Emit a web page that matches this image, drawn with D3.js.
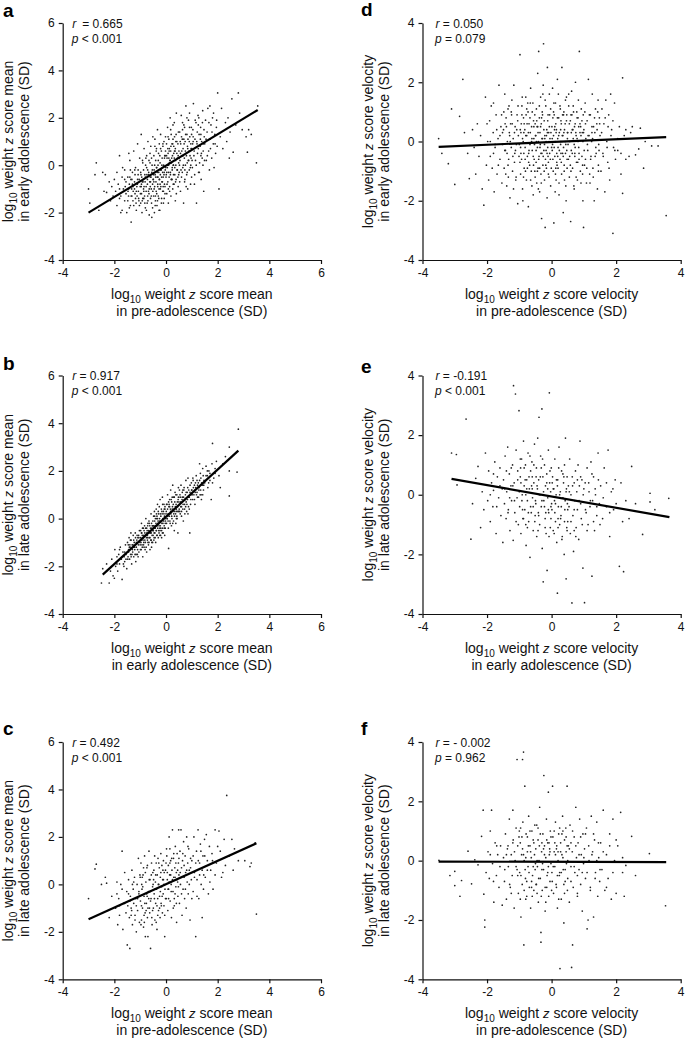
<!DOCTYPE html>
<html>
<head>
<meta charset="utf-8">
<script src="https://cdn.jsdelivr.net/npm/d3@7"></script>
<style>
  body { margin: 0; background: #fff; }
  svg { display: block; font-family: "Liberation Sans", Arial, Helvetica, sans-serif; }
</style>
</head>
<body>
<div id="chart"></div>
<script>
// ---- data: points, flat [x, y, x, y, ...] ----
const aPts = [
  -3.0,-1.0, -2.95,-1.6, -2.7,0.1, -2.75,-0.4, -2.6,-1.9, -2.45,-0.3, -2.4,-1.1, -2.35,-0.4, -2.3,-1.15, -2.2,-0.7, -2.15,-1.5, -2.1,-0.9, -2.05,-1.3, -2.0,-0.6,
  -1.95,-1.1, -1.9,-1.7, -1.85,-0.8, -1.8,0.4, -1.75,-1.3, -1.7,-0.5, -1.7,-1.9, -1.65,-1.0, -1.6,-0.2, -1.6,-1.5, -1.55,-0.7, -1.55,-1.2, -1.52,-2.0, -1.9,-0.3, -1.8,-1.4, -1.68,-0.1, -1.58,-0.9, -1.75,-2.0,
  -1.48,-0.5, -1.45,-1.3, -1.42,-0.8, -1.4,0.2, -1.38,-1.7, -1.35,-2.4, -1.33,-1.0, -1.3,-0.3, -1.28,-1.5, -1.25,0.6, -1.22,-0.7, -1.2,-1.2, -1.18,-0.1, -1.15,-1.9, -1.13,-0.9, -1.1,0.9, -1.08,-0.4, -1.06,-1.4, -1.04,-0.6, -1.02,0.3, -1.47,-1.1, -1.36,-0.6, -1.27,-1.1, -1.21,-0.2, -1.16,-1.6, -1.11,-0.8, -1.07,-1.1, -1.03,-1.7, -1.44,0.5, -1.32,-1.3,
  -0.99,-1.2, -0.98,-0.3, -0.96,1.3, -0.95,-0.8, -0.93,-2.0, -0.92,-1.5, -0.9,0.1, -0.88,-0.6, -0.87,-1.0, -0.85,0.7, -0.83,-1.3, -0.82,-0.4, -0.8,-1.8, -0.78,0.3, -0.77,-0.9, -0.75,-0.1, -0.73,-1.6, -0.72,-0.6, -0.7,1.0, -0.68,-1.1, -0.67,-0.3, -0.65,-2.1, -0.63,-0.7, -0.62,0.5, -0.6,-1.4, -0.58,-0.5, -0.57,-1.0, -0.55,-2.2, -0.54,0.0, -0.52,-0.8, -0.51,1.2, -0.94,-0.5, -0.86,-1.1, -0.79,0.0, -0.71,-1.3, -0.66,0.2, -0.61,-0.9, -0.56,-1.6, -0.53,-0.2, -0.89,-0.7, -0.74,-0.4, -0.59,0.8,
  -0.49,-0.6, -0.48,-1.3, -0.47,0.4, -0.46,-0.2, -0.45,-2.0, -0.44,-0.9, -0.43,1.1, -0.42,-0.4, -0.41,-1.5, -0.4,0.2, -0.39,-0.7, -0.38,-1.1, -0.37,0.7, -0.36,-0.1, -0.35,-1.7, -0.34,-0.5, -0.33,1.5, -0.32,-0.8, -0.31,0.0, -0.3,-1.3, -0.29,0.5, -0.28,-0.3, -0.27,-1.0, -0.26,0.9, -0.25,-0.6, -0.24,-1.9, -0.23,0.1, -0.22,-0.4, -0.21,1.3, -0.2,-0.9, -0.19,-0.2, -0.18,0.6, -0.17,-1.4, -0.16,-0.7, -0.15,0.3, -0.14,-0.1, -0.13,-1.1, -0.12,0.8, -0.11,-0.5, -0.1,-1.6, -0.09,0.0, -0.08,1.0, -0.07,-0.3, -0.06,-0.8, -0.05,0.4, -0.04,-1.2, -0.03,-0.2, -0.02,0.6,
  0.01,-0.4, 0.02,0.9, 0.03,-1.2, 0.04,0.3, 0.05,-0.1, 0.06,1.6, 0.07,-0.7, 0.08,0.5, 0.09,-1.6, 0.1,0.0, 0.11,1.1, 0.12,-0.5, 0.13,0.7, 0.14,-0.9, 0.15,0.2, 0.16,2.0, 0.17,-0.3, 0.18,0.6, 0.19,-1.3, 0.2,1.3, 0.21,0.1, 0.22,-0.6, 0.23,0.9, 0.24,-0.2, 0.25,0.4, 0.26,-1.0, 0.27,1.7, 0.28,0.0, 0.29,-0.4, 0.3,0.8, 0.31,-0.8, 0.32,0.3, 0.33,1.2, 0.34,-0.1, 0.35,0.6, 0.36,-1.5, 0.37,0.2, 0.38,1.0, 0.39,-0.6, 0.4,2.2, 0.42,0.5, 0.44,-0.2, 0.46,0.9, 0.47,-0.9, 0.49,0.1,
  0.5,0.6, 0.51,-0.3, 0.53,1.4, 0.54,0.2, 0.56,-1.1, 0.57,0.9, 0.59,2.1, 0.6,-0.5, 0.62,0.4, 0.63,1.1, 0.65,-0.1, 0.66,0.7, 0.68,-1.6, 0.69,1.7, 0.71,0.3, 0.72,-0.7, 0.74,1.0, 0.75,0.0, 0.77,2.5, 0.78,0.5, 0.8,-0.4, 0.81,1.3, 0.83,0.8, 0.84,-1.0, 0.86,0.2, 0.87,1.9, 0.89,0.6, 0.9,-0.2, 0.92,1.2, 0.93,0.4, 0.95,-0.8, 0.96,0.9, 0.98,1.6, 0.99,-0.5, 0.52,0.0, 0.64,1.5, 0.73,-0.2, 0.82,0.1, 0.91,2.2, 0.97,0.3,
  1.0,0.7, 1.02,-0.1, 1.04,1.5, 1.06,2.6, 1.08,0.4, 1.1,-0.8, 1.12,1.1, 1.14,0.2, 1.16,1.8, 1.18,-1.6, 1.2,0.9, 1.22,0.5, 1.24,2.1, 1.26,-0.3, 1.28,1.3, 1.3,0.1, 1.32,0.8, 1.34,1.6, 1.36,-0.6, 1.38,1.0, 1.4,0.3, 1.42,2.3, 1.44,0.6, 1.46,-1.1, 1.48,1.2, 1.05,1.0, 1.25,1.7, 1.35,0.4,
  1.5,0.9, 1.53,1.9, 1.56,0.2, 1.59,1.4, 1.62,2.4, 1.65,0.6, 1.68,-0.2, 1.71,1.1, 1.74,1.7, 1.77,0.3, 1.8,2.0, 1.83,0.9, 1.86,-0.1, 1.89,1.3, 1.92,0.5, 1.95,1.6, 1.98,0.8, 1.7,2.5,
  2.0,3.05, 2.05,-1.0, 2.1,1.2, 2.15,2.4, 2.2,0.7, 2.3,1.8, 2.35,1.0, 2.4,2.0, 2.45,0.3, 2.48,1.4,
  2.55,2.8, 2.6,0.55, 2.7,1.7, 2.8,3.05, 2.85,2.2, 2.95,1.5,
  3.1,1.2, 3.15,0.55, 3.2,1.5, 3.3,1.3, 3.5,0.1, 3.55,2.5,
  -1.45,-1.0, -1.4,-0.5, -1.35,-1.3, -1.3,-0.8, -1.25,-1.7, -1.2,-0.4, -1.15,-1.1, -1.1,-0.6, -1.05,-1.5, -1.0,-0.9,
  -1.48,-1.5, -1.38,-0.2, -1.28,-0.9, -1.18,-1.4, -1.08,-0.2, -0.98,-1.6, -1.42,-1.8, -1.32,-0.6, -1.22,-1.0, -1.12,-1.3,
  -0.97,-0.4, -0.95,-1.2, -0.92,-0.7, -0.9,-1.4, -0.87,-0.2, -0.85,-0.9, -0.82,-1.6, -0.8,-0.5, -0.77,-1.1, -0.75,0.4,
  -0.72,-0.8, -0.7,-1.5, -0.67,-0.4, -0.65,-1.0, -0.62,0.1, -0.6,-0.7, -0.57,-1.3, -0.55,-0.3, -0.52,-1.8, -0.5,-0.6,
  -0.96,-0.9, -0.91,0.2, -0.86,-1.4, -0.81,-0.7, -0.76,-1.9, -0.71,-0.2, -0.66,-1.2, -0.61,-0.5, -0.56,0.3, -0.51,-1.1,
  -0.48,-0.4, -0.46,-1.0, -0.44,0.0, -0.42,-1.7, -0.4,-0.5, -0.38,0.6, -0.36,-1.2, -0.34,-0.3, -0.32,-0.9, -0.3,0.2,
  -0.28,-1.4, -0.26,-0.6, -0.24,0.4, -0.22,-1.0, -0.2,-0.2, -0.18,-1.6, -0.16,0.0, -0.14,-0.7, -0.12,0.9, -0.1,-1.1,
  -0.08,-0.4, -0.06,0.3, -0.04,-0.9, -0.02,1.2, 0.0,-0.5, -0.47,-0.7, -0.37,-0.1, -0.27,-1.9, -0.17,-0.5, -0.07,-1.4,
  -0.43,0.8, -0.33,-1.5, -0.23,-0.8, -0.13,-0.3, -0.03,0.4, -0.41,-1.3, -0.31,-0.5, -0.21,0.7, -0.11,-0.9, -0.01,-0.1,
  0.02,0.4, 0.04,-0.8, 0.06,0.0, 0.08,1.2, 0.1,-0.3, 0.12,0.6, 0.14,-1.1, 0.16,0.2, 0.18,1.5, 0.2,-0.6,
  0.22,0.3, 0.24,-0.1, 0.26,0.9, 0.28,-0.8, 0.3,0.5, 0.32,1.8, 0.34,-0.4, 0.36,0.7, 0.38,0.0, 0.4,-1.2,
  0.42,1.0, 0.44,0.3, 0.46,-0.5, 0.48,1.4, 0.03,-0.3, 0.13,0.1, 0.23,-0.6, 0.33,0.6, 0.43,-0.2, 0.07,0.7,
  0.17,-0.4, 0.27,1.1, 0.37,-0.7, 0.47,0.4, 0.09,-1.0, 0.19,0.8, 0.29,0.0, 0.39,1.3, 0.49,-0.4, 0.11,0.3,
  0.51,0.3, 0.55,1.0, 0.58,-0.2, 0.61,0.6, 0.64,1.8, 0.67,0.0, 0.7,0.9, 0.73,-0.6, 0.76,1.3, 0.79,0.4,
  0.82,-0.3, 0.85,1.1, 0.88,0.2, 0.91,1.6, 0.94,-0.1, 0.97,0.7, 0.53,-0.7, 0.6,1.2, 0.66,0.4, 0.72,1.6,
  0.78,-0.9, 0.84,0.7, 0.9,1.0, 0.96,0.0, 0.99,1.3, 0.56,0.5, 0.63,-0.3, 0.69,1.1, 0.75,0.6, 0.81,2.0,
  1.01,0.2, 1.05,1.2, 1.09,0.6, 1.13,1.9, 1.17,0.0, 1.21,1.4, 1.25,0.7, 1.29,-0.3, 1.33,1.1, 1.37,0.5,
  1.41,1.8, 1.45,0.9, 1.49,0.2, 1.03,0.9, 1.11,-0.4, 1.19,1.0, 1.27,2.0, 1.35,1.3, 1.43,0.0, 1.47,1.5,
  1.55,1.1, 1.6,0.4, 1.66,1.8, 1.72,0.7, 1.78,1.4, 1.84,2.2, 1.9,0.9, 1.96,1.9, -1.6,-0.6, -1.8,-1.0
];
const bPts = [
  -2.5,-2.7, -2.45,-2.1, -2.2,-2.7, -2.3,-1.9, -2.15,-2.2, -2.1,-1.7, -2.05,-2.4, -2.0,-2.5,
  -1.98,-1.3, -1.95,-2.0, -1.9,-1.6, -1.87,-2.2, -1.83,-1.5, -1.8,-1.9, -1.77,-1.2, -1.73,-1.7, -1.7,-2.55, -1.67,-1.4, -1.63,-2.0, -1.6,-1.8, -1.57,-1.1, -1.55,-1.5, -1.52,-2.1, -1.62,-1.6,
  -1.49,-1.0, -1.47,-1.6, -1.45,-1.3, -1.43,-0.8, -1.41,-1.7, -1.39,-1.2, -1.37,-1.5, -1.35,-0.9, -1.33,-1.9, -1.31,-1.1, -1.29,-1.4, -1.27,-0.7, -1.25,-1.6, -1.23,-1.0, -1.21,-1.3, -1.19,-0.6, -1.17,-1.8, -1.15,-1.2, -1.13,-0.9, -1.11,-1.5, -1.09,-0.8, -1.07,-1.1, -1.05,-1.4, -1.03,-0.5, -1.01,-1.0, -1.46,-1.1, -1.36,-0.6, -1.26,-1.2, -1.16,-1.5, -1.06,-0.7,
  -0.99,-1.3, -0.98,-0.5, -0.96,-0.9, -0.95,-0.2, -0.93,-1.1, -0.92,-0.7, -0.9,-1.6, -0.88,-0.4, -0.87,-0.8, -0.85,-1.2, -0.83,-0.3, -0.82,-0.6, -0.8,-1.0, -0.78,0.0, -0.77,-0.7, -0.75,-1.4, -0.73,-0.5, -0.72,-0.9, -0.7,-0.2, -0.68,-1.1, -0.67,-0.6, -0.65,-0.8, -0.63,-0.3, -0.62,-1.3, -0.6,-0.5, -0.58,0.2, -0.57,-0.9, -0.55,-0.4, -0.54,-0.7, -0.52,-1.0, -0.51,-0.1, -0.94,-0.6, -0.86,-1.0, -0.79,-0.4, -0.71,-0.8, -0.66,-0.1, -0.61,-0.6, -0.56,-1.2, -0.53,-0.3, -0.89,-0.9, -0.74,-0.6, -0.59,-0.9,
  -0.49,-0.5, -0.48,0.1, -0.47,-0.3, -0.46,-0.8, -0.45,0.3, -0.44,-0.1, -0.43,-0.6, -0.42,-0.4, -0.41,0.0, -0.4,-1.0, -0.39,-0.2, -0.38,0.4, -0.37,-0.5, -0.36,-0.7, -0.35,0.1, -0.34,-0.3, -0.33,0.6, -0.32,-0.4, -0.31,-0.1, -0.3,-0.8, -0.29,0.2, -0.28,-0.2, -0.27,-0.6, -0.26,0.5, -0.25,0.0, -0.24,-0.4, -0.23,0.8, -0.22,-0.3, -0.21,-0.7, -0.2,0.1, -0.19,-0.1, -0.18,0.4, -0.17,-0.5, -0.16,-0.2, -0.15,0.2, -0.14,0.9, -0.13,-0.4, -0.12,0.0, -0.11,-0.6, -0.1,0.3, -0.09,-0.1, -0.08,0.6, -0.07,-0.3, -0.06,0.1, -0.05,-0.7, -0.04,0.4, -0.03,-0.2, -0.02,0.0,
  0.01,0.3, 0.02,-0.2, 0.04,0.6, 0.05,0.0, 0.06,1.0, 0.08,0.2, 0.09,-0.4, 0.1,-1.25, 0.11,0.5, 0.13,0.1, 0.14,0.8, 0.15,-0.1, 0.17,0.4, 0.18,1.2, 0.19,0.2, 0.21,-0.3, 0.22,0.7, 0.23,0.0, 0.25,0.5, 0.26,1.4, 0.27,0.3, 0.29,-0.1, 0.3,0.9, 0.31,0.4, 0.33,0.1, 0.34,0.7, 0.35,1.1, 0.37,0.2, 0.38,-0.2, 0.39,0.6, 0.41,0.3, 0.42,1.0, 0.43,0.0, 0.45,0.5, 0.46,-0.6, 0.47,0.8, 0.49,0.3, 0.12,0.6, 0.24,0.9, 0.32,-0.5, 0.4,0.0, 0.48,1.3,
  0.5,0.7, 0.52,1.2, 0.53,0.3, 0.55,0.9, 0.57,0.5, 0.58,1.4, 0.6,0.1, 0.62,0.8, 0.63,1.1, 0.65,0.4, 0.67,-0.1, 0.68,0.9, 0.7,1.3, 0.72,0.6, 0.73,0.2, 0.75,1.0, 0.77,1.6, 0.78,0.7, 0.8,0.3, 0.82,1.1, 0.83,0.8, 0.85,1.7, 0.87,0.5, 0.88,1.2, 0.9,0.9, 0.92,-0.6, 0.93,1.4, 0.95,0.6, 0.97,1.0, 0.98,1.5, 0.6,0.5, 0.85,0.2,
  1.0,1.2, 1.03,0.8, 1.05,1.6, 1.08,1.0, 1.1,1.4, 1.12,0.6, 1.15,1.3, 1.17,1.8, 1.2,1.1, 1.22,0.9, 1.25,1.5, 1.27,1.2, 1.3,2.3, 1.32,1.0, 1.35,1.7, 1.37,0.8, 1.4,1.4, 1.42,2.1, 1.45,1.2, 1.47,1.6, 1.13,1.1, 1.33,1.9,
  1.5,1.5, 1.55,2.2, 1.6,1.8, 1.62,1.3, 1.66,2.0, 1.7,1.6, 1.75,0.8, 1.78,2.3, 1.8,3.15, 1.85,1.7, 1.9,2.1, 1.95,2.4,
  2.05,1.8, 2.1,1.3, 2.2,2.3, 2.3,2.6, 2.45,3.0, 2.45,2.0, 2.45,0.95, 2.75,1.95, 2.8,3.75,
  -1.45,-1.4, -1.4,-1.1, -1.35,-1.6, -1.3,-1.3, -1.25,-0.9, -1.2,-1.5, -1.15,-1.0, -1.1,-1.3, -1.05,-0.8, -1.0,-1.1,
  -1.48,-1.7, -1.38,-0.9, -1.28,-1.1, -1.18,-0.8, -1.08,-1.6, -0.98,-0.8, -1.42,-1.2, -1.32,-1.5, -1.22,-1.2, -1.12,-0.7,
  -0.97,-1.0, -0.95,-0.6, -0.92,-1.2, -0.9,-0.8, -0.87,-1.1, -0.85,-0.5, -0.82,-0.9, -0.8,-0.7, -0.77,-1.2, -0.75,-0.4,
  -0.72,-0.7, -0.7,-1.0, -0.67,-0.5, -0.65,-0.2, -0.62,-0.8, -0.6,-0.4, -0.57,-0.6, -0.55,-1.0, -0.52,-0.3, -0.5,-0.7,
  -0.96,-1.3, -0.91,-0.4, -0.86,-0.7, -0.81,-1.3, -0.76,-0.8, -0.71,-0.3, -0.66,-1.0, -0.61,-0.6, -0.56,-0.2, -0.51,-0.5,
  -0.48,-0.3, -0.46,-0.6, -0.44,0.1, -0.42,-0.8, -0.4,-0.3, -0.38,-0.5, -0.36,0.0, -0.34,-0.7, -0.32,-0.2, -0.3,0.3,
  -0.28,-0.5, -0.26,-0.1, -0.24,-0.7, -0.22,0.2, -0.2,-0.4, -0.18,-0.1, -0.16,0.3, -0.14,-0.6, -0.12,-0.2, -0.1,0.0,
  -0.08,0.2, -0.06,-0.4, -0.04,0.5, -0.02,-0.1, 0.0,0.2, -0.47,-0.9, -0.37,0.2, -0.27,-0.3, -0.17,-0.8, -0.07,0.4,
  -0.43,-0.4, -0.33,0.0, -0.23,-0.5, -0.13,0.6, -0.03,-0.4, 0.02,0.6, 0.04,0.0, 0.06,0.4, 0.08,-0.1, 0.1,0.7,
  0.12,0.2, 0.14,0.5, 0.16,-0.2, 0.18,0.3, 0.2,0.8, 0.22,0.1, 0.24,0.4, 0.26,-0.2, 0.28,0.6, 0.3,0.2,
  0.32,0.9, 0.34,0.3, 0.36,0.5, 0.38,1.0, 0.4,0.4, 0.42,0.1, 0.44,0.7, 0.46,0.3, 0.48,0.9, 0.07,0.1,
  0.51,0.4, 0.54,1.0, 0.57,0.7, 0.6,0.3, 0.63,0.9, 0.66,0.6, 0.69,1.2, 0.72,0.4, 0.75,0.8, 0.78,1.1,
  0.81,0.6, 0.84,1.3, 0.87,0.9, 0.9,0.4, 0.93,1.1, 0.96,0.8, 0.99,1.2, 0.55,0.2, 0.65,1.2, 0.76,0.5,
  1.02,1.0, 1.06,1.3, 1.1,0.8, 1.14,1.5, 1.18,1.0, 1.22,1.4, 1.26,0.9, 1.3,1.6, 1.34,1.2, 1.38,1.5,
  1.42,1.0, 1.46,1.4, 1.04,1.7, 1.12,1.2, 1.2,1.6, 1.28,1.3, 1.36,1.0, 1.44,1.8, 1.55,1.8, 1.65,1.5,
  1.6,2.0, 1.7,1.9, 1.8,1.5, 1.9,1.9, -1.6,-1.4, -1.7,-1.6, -1.8,-1.3, -1.9,-1.9, -1.55,-1.7, -1.65,-1.9
];
const cPts = [
  -3.0,-0.6, -2.75,0.65, -2.7,0.85, -2.5,0.0, -2.35,0.3, -2.3,0.05, -2.2,-1.4, -2.1,-0.5,
  -1.95,-1.0, -1.9,-0.4, -1.87,-1.7, -1.83,-0.6, -1.8,-1.3, -1.75,0.0, -1.7,1.4, -1.67,-1.9, -1.63,-0.8, -1.6,0.5, -1.55,-1.2, -1.52,-0.3,
  -1.5,-2.55, -1.48,-0.9, -1.45,0.2, -1.42,-1.4, -1.4,-2.7, -1.38,-0.5, -1.35,-1.0, -1.32,0.6, -1.3,-1.7, -1.27,-0.2, -1.25,-0.8, -1.22,0.3, -1.2,-1.3, -1.17,-0.6, -1.15,-2.0, -1.12,0.0, -1.1,-1.1, -1.07,1.1, -1.05,-0.4, -1.03,-1.6, -1.01,0.4, -1.33,-1.1,
  -0.99,-0.7, -0.97,0.9, -0.95,-1.5, -0.93,-0.2, -0.91,-1.0, -0.89,0.4, -0.87,-1.8, -0.85,-0.5, -0.83,1.2, -0.81,-1.2, -0.8,-2.2, -0.78,0.1, -0.76,-0.8, -0.74,0.7, -0.72,-1.4, -0.7,-2.2, -0.68,-0.3, -0.66,1.4, -0.64,-1.0, -0.62,0.2, -0.6,-2.7, -0.58,-0.6, -0.56,0.9, -0.54,-1.7, -0.52,-0.1, -0.51,0.5, -0.94,0.0, -0.84,-1.6, -0.73,-0.5, -0.63,-1.2,
  -0.49,-1.0, -0.47,0.6, -0.46,-0.4, -0.44,1.2, -0.43,-1.5, -0.41,0.1, -0.4,-0.8, -0.38,0.9, -0.37,-0.2, -0.35,-1.9, -0.34,0.4, -0.32,-0.6, -0.31,1.1, -0.29,-1.1, -0.28,0.0, -0.26,0.7, -0.25,-0.5, -0.23,-1.4, -0.22,0.3, -0.2,1.3, -0.19,-0.8, -0.17,-0.1, -0.16,0.8, -0.14,-1.2, -0.13,0.2, -0.11,-0.4, -0.1,1.0, -0.08,-0.9, -0.07,0.5, -0.05,-2.2, -0.04,-0.2, -0.02,0.6,
  0.01,-0.6, 0.03,1.2, 0.05,0.2, 0.07,-1.1, 0.09,0.8, 0.1,-0.2, 0.12,2.0, 0.14,0.4, 0.16,-0.7, 0.18,1.0, 0.2,0.0, 0.21,-1.4, 0.23,0.6, 0.25,2.3, 0.27,-0.3, 0.29,1.1, 0.3,0.3, 0.32,-0.9, 0.34,0.7, 0.36,1.6, 0.38,-0.1, 0.4,0.5, 0.41,-1.6, 0.43,1.3, 0.45,0.1, 0.46,-0.5, 0.48,0.9, 0.49,2.3, 0.15,1.5, 0.35,-0.4,
  0.5,0.4, 0.52,-0.8, 0.54,1.4, 0.56,0.0, 0.58,2.3, 0.6,0.7, 0.62,-1.3, 0.64,1.0, 0.66,-0.2, 0.68,1.8, 0.7,0.3, 0.72,-0.6, 0.74,1.2, 0.76,0.5, 0.78,-1.0, 0.8,2.0, 0.82,0.1, 0.84,0.9, 0.86,-0.4, 0.88,1.5, 0.9,0.6, 0.93,-1.5, 0.95,1.1, 0.98,0.2,
  1.0,1.0, 1.05,-0.3, 1.08,2.0, 1.1,0.5, 1.15,-2.2, 1.18,1.4, 1.2,0.2, 1.24,2.3, 1.27,-0.6, 1.3,0.9, 1.33,1.7, 1.36,0.0, 1.4,-1.4, 1.43,1.2, 1.46,0.4, 1.49,1.9,
  1.52,0.3, 1.56,2.1, 1.6,1.0, 1.64,-0.4, 1.68,1.6, 1.73,0.6, 1.78,1.3, 1.82,-0.2, 1.9,2.3, 1.95,0.9,
  2.05,2.25, 2.1,1.4, 2.15,0.3, 2.25,1.9, 2.3,0.8, 2.35,3.75, 2.45,1.2,
  2.55,1.9, 2.6,0.6, 2.65,1.5, 2.8,1.0, 3.05,1.0, 3.25,0.75, 3.3,0.9, 3.45,1.75, 3.5,-1.25,
  -1.45,-0.4, -1.35,-1.3, -1.25,0.1, -1.15,-0.9, -1.05,-0.3, -1.4,-0.7, -1.3,0.0, -1.2,-1.5, -1.1,-0.6, -1.0,0.3,
  -0.95,-0.9, -0.9,-0.1, -0.85,-1.3, -0.8,0.5, -0.75,-0.4, -0.7,-1.0, -0.65,0.2, -0.6,-0.7, -0.55,-1.4, -0.5,0.0,
  -0.92,0.3, -0.82,-0.8, -0.72,0.8, -0.62,-0.3, -0.52,-1.1, -0.97,-1.7, -0.87,0.7, -0.77,-1.1, -0.67,-0.6, -0.57,0.4,
  -0.45,-0.6, -0.4,0.4, -0.35,-0.9, -0.3,0.0, -0.25,-1.0, -0.2,0.5, -0.15,-0.5, -0.1,0.2, -0.05,-1.3, 0.0,0.9,
  -0.42,-0.2, -0.32,-1.3, -0.22,-0.3, -0.12,0.6, -0.02,-0.6, -0.48,0.2, -0.38,-1.6, -0.28,0.9, -0.18,-0.9, -0.08,0.0,
  0.05,0.5, 0.1,-0.6, 0.15,0.9, 0.2,-0.3, 0.25,0.2, 0.3,1.3, 0.35,0.3, 0.4,-0.8, 0.45,0.6, 0.5,1.1,
  0.08,-0.2, 0.18,0.4, 0.28,-1.0, 0.38,0.9, 0.48,-0.1, 0.02,1.5, 0.12,0.1, 0.22,1.1, 0.32,-0.6, 0.42,0.2,
  0.55,0.5, 0.6,-0.4, 0.65,1.3, 0.7,0.8, 0.75,-0.2, 0.8,0.6, 0.85,1.6, 0.9,0.0, 0.95,0.7, 1.0,-0.6,
  1.05,1.2, 1.1,0.3, 1.15,0.9, 1.2,-0.5, 1.25,1.0, 1.3,0.4, 1.35,1.4, 1.4,0.6, 1.45,-0.2, 1.5,1.2,
  -1.6,-0.8, -1.7,-0.2, -1.8,-0.9, -1.9,0.1, 1.6,0.6, 1.7,0.1, 1.8,1.0, 1.9,0.4, 2.0,1.6, 2.2,0.5
];
const dPts = [
  -3.5,0.1, -3.4,-0.4, -3.2,-0.75, -3.1,1.1, -3.0,-1.45, -2.85,0.85, -2.75,2.1, -2.6,-0.4, -2.55,-1.25, -2.7,0.3,
  -2.45,0.4, -2.4,-0.2, -2.35,-1.1, -2.3,0.6, -2.25,-0.5, -2.2,0.2, -2.15,-1.6, -2.1,-2.15, -2.05,1.5, -2.02,-0.8,
  -1.98,0.0, -1.95,-1.3, -1.92,0.7, -1.9,-0.5, -1.87,1.2, -1.84,-0.9, -1.81,0.3, -1.78,-1.7, -1.75,-0.2, -1.72,0.9, -1.69,-1.1, -1.66,0.1, -1.63,1.9, -1.6,-0.6, -1.57,0.5, -1.54,-1.4, -1.52,-0.1, -1.8,1.3,
  -1.49,0.4, -1.47,-0.9, -1.45,1.6, -1.43,-0.3, -1.41,0.8, -1.39,-1.5, -1.37,0.0, -1.35,1.1, -1.33,-0.6, -1.31,0.3, -1.29,-1.9, -1.27,0.6, -1.25,-0.2, -1.23,1.4, -1.21,-1.0, -1.19,0.1, -1.17,1.9, -1.15,-0.7, -1.13,0.5, -1.11,-1.3, -1.09,-0.1, -1.07,0.9, -1.05,-2.1, -1.03,0.2, -1.01,-0.5, -1.44,0.6, -1.34,-1.2, -1.24,0.9, -1.14,-0.4, -1.04,1.2,
  -0.98,2.93, -0.96,-1.1, -0.95,0.3, -0.93,-0.6, -0.92,1.2, -0.9,-1.6, -0.88,0.0, -0.87,0.8, -0.85,-0.9, -0.83,0.4, -0.82,-0.2, -0.8,1.5, -0.78,-1.3, -0.77,0.2, -0.75,-0.5, -0.73,1.0, -0.72,-2.2, -0.7,0.6, -0.68,-0.8, -0.67,-0.1, -0.65,1.8, -0.63,-1.0, -0.62,0.5, -0.6,-0.3, -0.58,1.3, -0.57,-1.8, -0.55,0.1, -0.54,-0.6, -0.52,0.9, -0.51,-1.2, -0.94,0.6, -0.86,-0.4, -0.79,0.9, -0.71,-0.7, -0.66,0.3, -0.61,-1.5, -0.56,0.7, -0.53,-0.1, -0.89,-2.0, -0.74,1.3,
  -0.49,0.2, -0.48,-0.7, -0.47,1.1, -0.46,-1.4, -0.45,0.5, -0.44,-0.2, -0.43,2.3, -0.42,-0.9, -0.41,0.0, -0.4,3.04, -0.39,-0.5, -0.38,0.8, -0.37,-1.7, -0.36,0.3, -0.35,-0.1, -0.34,1.5, -0.33,-1.1, -0.32,0.6, -0.31,-2.6, -0.3,-0.4, -0.29,1.0, -0.28,0.1, -0.27,-0.8, -0.26,1.9, -0.25,3.3, -0.24,-0.3, -0.23,0.7, -0.22,-1.3, -0.21,0.2, -0.2,-2.9, -0.19,-0.6, -0.18,1.2, -0.17,0.0, -0.16,-0.9, -0.15,0.4, -0.14,-1.9, -0.13,2.5, -0.12,-0.2, -0.11,0.9, -0.1,-0.7, -0.09,0.3, -0.08,-1.2, -0.07,1.6, -0.06,-0.4, -0.05,0.1, -0.03,-1.5,
  0.01,0.5, 0.02,-0.3, 0.03,1.8, 0.05,-1.0, 0.06,0.2, 0.07,-2.75, 0.08,0.9, 0.1,-0.5, 0.11,0.0, 0.12,1.3, 0.14,-1.3, 0.15,0.4, 0.16,-0.7, 0.18,2.1, 0.19,0.1, 0.2,-0.2, 0.22,0.8, 0.23,-1.8, 0.24,0.3, 0.26,-0.6, 0.27,1.1, 0.28,-0.1, 0.3,0.6, 0.31,-1.1, 0.32,2.5, 0.34,-0.4, 0.35,0.2, 0.36,-2.4, 0.38,1.0, 0.39,-0.8, 0.4,0.4, 0.42,0.0, 0.43,1.4, 0.44,-1.5, 0.46,0.7, 0.47,-0.3, 0.48,-0.9, 0.49,0.1, 0.04,0.8, 0.13,-0.9, 0.21,1.6, 0.29,-0.4, 0.37,0.9, 0.45,-2.0,
  0.5,0.3, 0.52,-0.6, 0.53,1.2, 0.55,-1.2, 0.56,0.0, 0.58,0.7, 0.59,-2.7, 0.61,-0.3, 0.62,1.7, 0.64,0.4, 0.65,-0.9, 0.67,0.1, 0.68,1.0, 0.7,-1.6, 0.71,0.5, 0.73,-0.2, 0.74,2.0, 0.76,0.2, 0.77,-0.7, 0.79,0.8, 0.8,-1.3, 0.82,0.0, 0.83,1.4, 0.85,-0.4, 0.86,3.04, 0.88,0.6, 0.89,-1.0, 0.91,0.2, 0.92,1.1, 0.94,-0.5, 0.95,0.3, 0.97,-2.0, 0.98,0.9, 0.99,-2.9, 0.6,0.9, 0.72,-0.5, 0.84,0.5, 0.96,-1.1,
  1.0,0.4, 1.02,-0.8, 1.04,1.3, 1.06,0.1, 1.08,-1.4, 1.1,0.7, 1.12,-0.3, 1.14,2.1, 1.16,0.2, 1.18,-1.1, 1.2,0.9, 1.22,-0.5, 1.24,0.0, 1.26,1.6, 1.28,-0.9, 1.3,0.5, 1.32,-2.0, 1.34,0.3, 1.36,1.1, 1.38,-0.4, 1.4,0.6, 1.42,-1.6, 1.44,1.4, 1.46,-0.1, 1.48,0.8, 1.05,-0.6, 1.25,0.5, 1.45,-0.8,
  1.5,0.2, 1.53,-1.0, 1.56,1.1, 1.59,-0.4, 1.62,0.6, 1.65,-1.7, 1.68,1.4, 1.71,0.0, 1.74,-0.7, 1.77,0.9, 1.8,-1.3, 1.83,1.6, 1.86,0.4, 1.9,-3.1, 1.92,-0.2, 1.95,1.3, 1.98,-0.6, 1.75,0.5,
  2.05,-0.3, 2.1,0.5, 2.15,-1.1, 2.2,2.15, 2.2,-1.75, 2.25,0.2, 2.3,-0.6, 2.4,-0.5, 2.45,0.3, 2.5,0.5,
  2.6,-0.45, 2.7,-0.25, 2.75,0.45, 2.9,0.0, 3.1,-0.15, 3.3,-0.15, 3.55,-2.5, 2.85,-0.9,
  -1.45,-0.3, -1.4,0.5, -1.35,-0.8, -1.3,0.2, -1.25,1.0, -1.2,-0.5, -1.15,0.3, -1.1,-1.2, -1.05,0.7, -1.0,-0.1,
  -1.48,1.0, -1.38,-0.4, -1.28,0.0, -1.18,-1.6, -1.08,0.4, -0.98,-0.7, -1.42,-1.1, -1.32,1.2, -1.22,0.6, -1.12,-0.3,
  -0.97,0.4, -0.95,-0.4, -0.92,0.9, -0.9,0.1, -0.87,-1.2, -0.85,0.6, -0.82,-0.6, -0.8,0.2, -0.77,1.1, -0.75,-0.9,
  -0.72,0.3, -0.7,-0.3, -0.67,0.8, -0.65,-1.3, -0.62,0.0, -0.6,1.0, -0.57,-0.5, -0.55,0.5, -0.52,-1.0, -0.5,0.2,
  -0.96,-0.2, -0.91,1.5, -0.86,0.3, -0.81,-1.0, -0.76,0.6, -0.71,-0.4, -0.66,1.3, -0.61,0.1, -0.56,-0.8, -0.51,0.6,
  -0.48,-0.3, -0.46,0.7, -0.44,-1.0, -0.42,0.3, -0.4,-0.6, -0.38,1.2, -0.36,-0.2, -0.34,0.5, -0.32,-1.4, -0.3,0.1,
  -0.28,0.9, -0.26,-0.5, -0.24,0.4, -0.22,-0.1, -0.2,1.4, -0.18,-0.8, -0.16,0.2, -0.14,-0.4, -0.12,0.7, -0.1,-1.1,
  -0.08,0.0, -0.06,0.9, -0.04,-0.6, -0.02,0.3, 0.0,-0.2, -0.47,0.0, -0.37,-0.9, -0.27,1.6, -0.17,-0.3, -0.07,0.5,
  -0.43,0.5, -0.33,-0.4, -0.23,-1.0, -0.13,0.3, -0.03,1.1, -0.41,-1.6, -0.31,0.8, -0.21,0.1, -0.11,-0.5, -0.01,-0.9,
  0.02,0.1, 0.04,-0.6, 0.06,1.0, 0.08,-0.2, 0.1,0.5, 0.12,-1.1, 0.14,0.3, 0.16,-0.4, 0.18,0.8, 0.2,-0.9,
  0.22,0.2, 0.24,-0.3, 0.26,1.2, 0.28,0.4, 0.3,-0.7, 0.32,0.0, 0.34,0.9, 0.36,-0.5, 0.38,0.3, 0.4,-1.3,
  0.42,0.6, 0.44,-0.1, 0.46,1.5, 0.48,-0.6, 0.03,-0.1, 0.13,0.6, 0.23,-1.4, 0.33,0.2, 0.43,-0.4, 0.07,1.3,
  0.17,-0.8, 0.27,0.0, 0.37,-0.2, 0.47,0.9, 0.09,0.4, 0.19,-0.5, 0.29,0.7, 0.39,-1.0, 0.49,0.3, 0.11,-1.7,
  0.51,-0.1, 0.55,0.6, 0.58,-0.8, 0.61,0.3, 0.64,-0.4, 0.67,1.2, 0.7,-0.1, 0.73,0.6, 0.76,-1.2, 0.79,0.1,
  0.82,0.8, 0.85,-0.6, 0.88,0.3, 0.91,-1.4, 0.94,0.7, 0.97,0.0, 0.53,1.6, 0.6,-1.0, 0.66,0.4, 0.72,-0.4,
  0.78,1.0, 0.84,-0.2, 0.9,0.5, 0.96,-0.8, 0.99,0.3, 0.56,-0.5, 0.63,0.9, 0.69,-1.5, 0.75,0.3, 0.81,-0.7,
  1.01,-0.3, 1.05,0.6, 1.09,-0.9, 1.13,0.2, 1.17,0.9, 1.21,-0.6, 1.25,0.3, 1.29,-1.2, 1.33,0.8, 1.37,-0.2,
  1.41,0.4, 1.45,-1.0, 1.49,0.6, 1.03,1.0, 1.11,-0.1, 1.19,-1.4, 1.27,0.1, 1.35,-0.5, 1.43,1.0, 1.47,-0.3,
  1.55,0.3, 1.6,-0.5, 1.66,0.8, 1.72,-0.2, 1.78,-0.9, 1.84,0.2, 1.9,0.7, 1.96,-0.3, -1.6,0.2, -1.8,-0.4,
  -1.55,0.9, -1.65,-0.8, -1.7,0.4, -1.9,0.0, -2.0,0.6, 2.05,0.1, 2.15,-0.4, 2.3,0.4, -1.75,-0.1, -1.52,0.3
];
const ePts = [
  -3.1,1.4, -2.95,1.35, -2.93,0.33, -2.65,2.54, -2.5,-1.49, -2.45,-0.3, -2.35,0.55, -2.28,0.95, -2.2,-1.1, -2.15,0.1, -2.1,-0.5, -2.05,1.4,
  -1.98,-0.2, -1.95,0.8, -1.9,-0.9, -1.86,0.4, -1.82,-0.4, -1.8,0.15, -1.76,1.1, -1.72,-1.3, -1.68,0.6, -1.64,-0.1, -1.6,0.9, -1.57,-0.7, -1.53,0.2, -1.51,-1.6,
  -1.49,0.5, -1.46,-0.3, -1.44,1.3, -1.41,-0.8, -1.39,0.1, -1.36,1.6, -1.34,-0.5, -1.31,0.7, -1.29,-1.2, -1.26,0.3, -1.24,-0.2, -1.21,1.0, -1.19,-1.53, -1.18,3.66, -1.16,0.4, -1.14,-0.6, -1.12,3.38, -1.1,1.5, -1.07,-0.1, -1.05,0.8, -1.03,-1.0, -1.01,2.82,
  -0.99,-0.4, -0.97,0.6, -0.95,-1.3, -0.93,1.2, -0.91,0.0, -0.89,-0.8, -0.87,1.8, -0.85,0.3, -0.83,-0.5, -0.81,1.0, -0.79,-1.7, -0.77,0.5, -0.75,-0.2, -0.73,1.4, -0.71,-0.9, -0.69,0.2, -0.67,-2.1, -0.65,0.8, -0.63,-0.6, -0.61,1.1, -0.59,-0.1, -0.57,-1.2, -0.55,0.4, -0.53,1.7, -0.51,-0.7, -0.96,0.9, -0.8,-1.0, -0.6,0.6,
  -0.49,-0.3, -0.47,0.9, -0.46,-1.4, -0.44,0.2, -0.43,1.9, -0.41,-0.6, -0.4,0.5, -0.39,2.6, -0.37,-1.0, -0.35,0.0, -0.34,1.3, -0.32,-0.4, -0.3,2.88, -0.29,-1.8, -0.27,0.6, -0.26,-2.92, -0.24,-0.2, -0.22,1.0, -0.2,-0.8, -0.19,0.3, -0.17,-1.3, -0.15,0.7, -0.14,-2.54, -0.12,-0.1, -0.1,1.5, -0.09,-0.6, -0.07,3.42, -0.06,0.4, -0.04,-1.1, -0.03,0.1, -0.02,-0.4, -0.01,0.9,
  0.01,-0.5, 0.03,0.6, 0.05,-1.2, 0.07,0.2, 0.09,-0.2, 0.1,1.2, 0.12,-0.9, 0.14,0.0, 0.16,-1.6, 0.18,-3.3, 0.19,0.5, 0.21,-0.4, 0.23,1.6, 0.25,-1.0, 0.27,0.1, 0.29,-0.7, 0.31,0.8, 0.33,-1.4, 0.35,-0.1, 0.37,0.4, 0.39,-2.0, 0.41,-0.5, 0.43,1.9, 0.45,-2.82, 0.46,0.2, 0.47,-1.1, 0.48,0.6, 0.49,-0.3, 0.2,-0.8, 0.4,1.0,
  0.5,-0.9, 0.52,0.3, 0.54,-0.4, 0.56,1.2, 0.58,-1.3, 0.6,0.0, 0.63,-3.63, 0.64,0.6, 0.66,-0.7, 0.68,-1.9, 0.7,0.4, 0.72,-0.2, 0.74,0.8, 0.76,-1.1, 0.78,0.1, 0.8,-0.5, 0.82,1.0, 0.84,-1.5, 0.86,0.3, 0.88,1.8, 0.9,-0.3, 0.92,-0.8, 0.94,0.5, 0.97,-2.46, 0.98,0.0, 0.7,-1.2,
  1.02,-3.62, 1.04,0.4, 1.07,-0.6, 1.1,0.9, 1.13,-1.0, 1.16,0.1, 1.19,-0.4, 1.22,1.1, 1.25,-2.73, 1.27,-0.2, 1.3,0.6, 1.33,-1.2, 1.36,0.0, 1.4,-0.7, 1.44,1.4, 1.48,-0.3,
  1.52,0.3, 1.58,-0.8, 1.63,0.9, 1.7,-0.4, 1.75,1.5, 1.8,-1.4, 1.85,0.1, 1.92,-0.5, 1.97,0.5,
  2.1,-2.4, 2.15,0.4, 2.23,-2.58, 2.3,-0.2, 2.4,-0.8, 2.48,0.95,
  2.6,-0.3, 2.82,-1.33, 3.05,0.05, 3.05,-0.24, 3.2,-0.5, 3.63,-0.12,
  -1.45,0.2, -1.35,-0.6, -1.25,0.9, -1.15,-0.2, -1.05,0.5, -1.4,0.8, -1.3,-0.1, -1.2,0.3, -1.1,-0.9, -1.0,0.1,
  -0.95,0.4, -0.9,-0.5, -0.85,0.9, -0.8,0.0, -0.75,-1.1, -0.7,0.6, -0.65,-0.4, -0.6,0.2, -0.55,1.0, -0.5,-0.2,
  -0.92,-0.2, -0.82,0.5, -0.72,-0.6, -0.62,0.3, -0.52,-0.9, -0.97,1.2, -0.87,-0.8, -0.77,0.2, -0.67,1.3, -0.57,-0.4,
  -0.45,0.3, -0.4,-0.7, -0.35,0.6, -0.3,-0.2, -0.25,0.1, -0.2,-1.1, -0.15,0.4, -0.1,-0.5, -0.05,0.8, 0.0,-0.3,
  -0.42,-1.2, -0.32,0.9, -0.22,-0.4, -0.12,0.2, -0.02,-0.8, -0.48,0.6, -0.38,0.0, -0.28,1.2, -0.18,-0.6, -0.08,-1.4,
  0.05,0.2, 0.1,-0.6, 0.15,0.5, 0.2,-1.1, 0.25,0.0, 0.3,-0.4, 0.35,0.7, 0.4,-0.9, 0.45,0.1, 0.5,-0.5,
  0.08,-1.3, 0.18,0.3, 0.28,-0.8, 0.38,0.6, 0.48,-1.2, 0.02,0.4, 0.12,-0.3, 0.22,0.9, 0.32,-1.5, 0.42,-0.2,
  0.55,0.1, 0.6,-0.9, 0.65,0.3, 0.7,-0.5, 0.75,-1.4, 0.8,0.5, 0.85,-0.2, 0.9,0.6, 0.95,-1.0, 1.0,0.2,
  1.05,-0.5, 1.1,-1.2, 1.15,0.4, 1.2,-0.2, 1.25,0.7, 1.3,-0.9, 1.35,0.2, 1.4,-0.4, 1.45,0.5, 1.5,-1.0,
  -1.6,0.3, -1.7,-0.4, -1.8,0.7, -1.9,0.0, 1.6,-0.1, 1.7,0.4, 1.8,-0.6, 1.9,0.2, 2.0,-0.3, 2.2,-0.9
];
const fPts = [
  -3.49,0.01, -3.15,-0.5, -3.0,-0.36, -3.0,-0.84, -2.84,-1.2, -2.79,-0.67, -2.59,0.32, -2.48,-0.78, -2.38,0.03, -2.28,-0.14, -2.17,0.82, -2.12,1.7, -2.1,-1.13, -2.07,-2.0, -2.07,-2.24, -2.03,-0.4,
  -1.97,0.3, -1.93,-0.6, -1.9,1.0, -1.86,1.7, -1.83,-0.1, -1.79,-1.4, -1.75,0.6, -1.71,-0.5, -1.67,0.2, -1.63,-0.9, -1.58,0.5, -1.53,-1.5,
  -1.49,0.1, -1.46,-0.7, -1.43,0.9, -1.4,-1.3, -1.37,0.4, -1.34,-0.2, -1.31,1.4, -1.28,-0.9, -1.25,0.2, -1.22,-0.5, -1.19,0.7, -1.16,-1.6, -1.13,0.0, -1.1,1.1, -1.07,-0.3, -1.07,3.41, -1.05,0.5, -1.03,-1.1, -1.01,0.8, -1.2,1.7,
  -0.99,-0.4, -0.97,0.6, -0.95,-1.9, -0.93,0.2, -0.9,3.41, -0.91,-0.8, -0.89,1.3, -0.87,3.66, -0.86,-2.84, -0.85,0.0, -0.83,2.51, -0.81,-0.6, -0.79,0.9, -0.77,-1.2, -0.75,0.3, -0.73,-0.2, -0.71,1.5, -0.69,-0.9, -0.67,0.5, -0.65,-1.6, -0.63,0.1, -0.61,1.0, -0.59,-0.5, -0.57,0.7, -0.55,-1.0, -0.53,0.2, -0.51,-0.3, -0.96,1.1, -0.8,-1.3, -0.62,-0.7,
  -0.49,0.4, -0.47,-0.8, -0.46,1.2, -0.44,-0.2, -0.42,0.7, -0.41,-1.4, -0.39,0.0, -0.37,1.8, -0.35,-0.6, -0.33,-2.75, -0.33,-2.42, -0.31,0.3, -0.29,-1.0, -0.27,0.9, -0.25,-0.3, -0.24,2.87, -0.22,0.5, -0.2,-1.7, -0.18,0.1, -0.16,1.4, -0.14,-0.5, -0.12,0.6, -0.1,2.31, -0.09,-1.2, -0.07,0.2, -0.05,-0.7, -0.04,1.0, -0.02,-0.1, -0.45,-1.1, -0.3,0.6, -0.15,-0.9, -0.06,0.4,
  0.01,-0.4, 0.03,2.51, 0.04,0.8, 0.06,-1.1, 0.08,0.3, 0.1,-0.2, 0.12,1.3, 0.14,-0.8, 0.16,0.5, 0.18,-1.6, 0.2,0.0, 0.22,0.9, 0.24,-0.5, 0.26,-3.64, 0.28,0.6, 0.3,-1.3, 0.32,0.2, 0.34,1.5, 0.36,-0.3, 0.38,-2.1, 0.4,0.7, 0.42,-0.7, 0.44,1.1, 0.46,-0.1, 0.48,2.51, 0.49,-1.0, 0.15,0.4, 0.25,-0.4, 0.35,1.0, 0.45,0.3,
  0.5,-0.6, 0.52,0.5, 0.55,-1.4, 0.57,1.2, 0.6,-0.2, 0.62,-3.6, 0.64,0.3, 0.65,-2.84, 0.67,-0.9, 0.7,0.8, 0.72,-0.4, 0.75,1.8, 0.77,0.1, 0.8,-1.1, 0.82,0.6, 0.85,-0.3, 0.87,1.4, 0.9,-0.8, 0.92,0.2, 0.95,-1.7, 0.97,0.9, 0.99,-0.1, 0.6,0.6, 0.8,-0.5,
  1.02,0.4, 1.05,-0.6, 1.08,1.1, 1.1,-2.3, 1.13,-2.0, 1.16,0.0, 1.2,-0.9, 1.23,1.5, 1.27,0.3, 1.3,-1.9, 1.33,0.7, 1.36,-0.4, 1.4,1.3, 1.43,-1.2, 1.46,0.1, 1.49,-0.7,
  1.52,0.6, 1.56,-0.3, 1.6,1.7, 1.65,-1.0, 1.7,0.2, 1.75,-0.6, 1.8,0.9, 1.85,-1.3, 1.9,1.4, 1.95,0.0,
  2.0,-1.1, 2.05,0.5, 2.14,1.63, 2.2,-0.4, 2.25,-1.2, 2.3,-0.16, 2.48,0.82, 2.6,-0.5, 3.03,0.24, 3.53,-1.52,
  -1.45,-0.3, -1.35,0.5, -1.25,-1.1, -1.15,0.3, -1.05,-0.5, -1.4,0.2, -1.3,-0.8, -1.2,0.6, -1.1,-0.2, -1.0,1.0,
  -0.95,-0.5, -0.9,0.4, -0.85,-1.0, -0.8,0.1, -0.75,0.8, -0.7,-0.4, -0.65,0.3, -0.6,-1.2, -0.55,0.6, -0.5,-0.1,
  -0.92,0.8, -0.82,-0.3, -0.72,0.5, -0.62,-0.9, -0.52,1.2, -0.97,-1.3, -0.87,0.2, -0.77,-0.7, -0.67,1.0, -0.57,-0.2,
  -0.45,0.0, -0.4,-0.6, -0.35,0.9, -0.3,-0.3, -0.25,0.4, -0.2,-0.9, -0.15,0.7, -0.1,-0.2, -0.05,0.3, 0.0,-1.0,
  -0.42,1.1, -0.32,-1.2, -0.22,0.2, -0.12,-0.4, -0.02,0.8, -0.48,-0.8, -0.38,0.5, -0.28,-0.1, -0.18,-1.4, -0.08,0.6,
  0.05,-0.2, 0.1,0.6, 0.15,-0.9, 0.2,0.3, 0.25,1.1, 0.3,-0.4, 0.35,0.1, 0.4,-1.1, 0.45,0.8, 0.5,0.0,
  0.08,1.0, 0.18,-0.5, 0.28,0.3, 0.38,-0.8, 0.48,0.5, 0.02,-0.7, 0.12,0.2, 0.22,-1.3, 0.32,0.9, 0.42,-0.3,
  0.55,0.4, 0.6,-0.7, 0.65,1.0, 0.7,-0.2, 0.75,0.5, 0.8,-1.2, 0.85,0.2, 0.9,0.8, 0.95,-0.4, 1.0,0.1,
  1.05,0.9, 1.1,-0.4, 1.15,0.5, 1.2,-1.0, 1.25,0.2, 1.3,0.9, 1.35,-0.6, 1.4,0.0, 1.45,0.6, 1.5,-0.3,
  -1.6,-0.2, -1.7,0.5, -1.8,-0.7, -1.9,0.2, 1.6,0.3, 1.7,-0.9, 1.8,0.5, 1.9,-0.4, 2.0,0.7, 2.2,0.1
];

// fitted line end points [x, y]
const aFit = [[-3.0, -2.0], [3.55, 2.33]];
const bFit = [[-2.45, -2.35], [2.8, 2.85]];
const cFit = [[-3.0, -1.47], [3.5, 1.73]];
const dFit = [[-3.5, -0.18], [3.55, 0.15]];
const eFit = [[-3.1, 0.53], [3.65, -0.75]];
const fFit = [[-3.5, -0.03], [3.55, -0.05]];

// statistics text
const rVals = ["\u2002= 0.665", " = 0.917", " = 0.492", " = 0.050", " = -0.191", " = - 0.002"];
const pVals = [" < 0.001", " < 0.001", " < 0.001", " = 0.079", " < 0.001", " = 0.962"];

// tick values
const meanTicks = [-4, -2, 0, 2, 4, 6];
const velTicks = [-4, -2, 0, 2, 4];

// ---- layout ----
const W = 685, H = 1041;
const cols = [{ x0: 62.7, x1: 321, dom: [-4, 6], ticks: meanTicks },
              { x0: 422.5, x1: 680.7, dom: [-4, 4], ticks: velTicks }];
const rows = [{ top: 23, bottom: 260 }, { top: 375.5, bottom: 614 }, { top: 742, bottom: 979.3 }];

const panels = [
  { id: "a", col: 0, row: 0, pts: aPts, fit: aFit, stat: "mean", xl: "in pre-adolescence (SD)", yl: "in early adolescence (SD)", ly: 16.5 },
  { id: "b", col: 0, row: 1, pts: bPts, fit: bFit, stat: "mean", xl: "in early adolescence (SD)", yl: "in late adolescence (SD)", ly: 370 },
  { id: "c", col: 0, row: 2, pts: cPts, fit: cFit, stat: "mean", xl: "in pre-adolescence (SD)", yl: "in late adolescence (SD)", ly: 735 },
  { id: "d", col: 1, row: 0, pts: dPts, fit: dFit, stat: "velocity", xl: "in pre-adolescence (SD)", yl: "in early adolescence (SD)", ly: 16 },
  { id: "e", col: 1, row: 1, pts: ePts, fit: eFit, stat: "velocity", xl: "in early adolescence (SD)", yl: "in late adolescence (SD)", ly: 373 },
  { id: "f", col: 1, row: 2, pts: fPts, fit: fFit, stat: "velocity", xl: "in pre-adolescence (SD)", yl: "in late adolescence (SD)", ly: 735 }
];
const statIndex = { a: 0, b: 1, c: 2, d: 3, e: 4, f: 5 };

const svg = d3.select("#chart").append("svg")
    .attr("width", W)
    .attr("height", H);

// first line of an axis title: log10 weight z score <stat>
function logLine(text, stat) {
    text.append("tspan").text("log");
    text.append("tspan").attr("font-size", 10).attr("dy", 3.5).text("10");
    text.append("tspan").attr("dy", -3.5).text(" weight ");
    text.append("tspan").attr("font-style", "italic").attr("font-size", 13).text("z");
    text.append("tspan").text(" score " + stat);
}

panels.forEach(p => {
    const c = cols[p.col], r = rows[p.row];
    const x = d3.scaleLinear().domain(c.dom).range([c.x0, c.x1]);
    const y = d3.scaleLinear().domain(c.dom).range([r.bottom, r.top]);
    const g = svg.append("g");

    // axes
    g.append("g")
        .attr("transform", `translate(0,${r.bottom})`)
        .call(d3.axisBottom(x).tickValues(c.ticks).tickFormat(d => String(d)).tickSize(4).tickSizeOuter(0).tickPadding(4));
    g.append("g")
        .attr("transform", `translate(${c.x0},0)`)
        .call(d3.axisLeft(y).tickValues(c.ticks).tickFormat(d => String(d)).tickSize(4).tickSizeOuter(0).tickPadding(4));
    g.selectAll(".domain, .tick line").attr("stroke", "#111").attr("stroke-width", 1.2);
    g.selectAll(".tick text").attr("font-size", 12).attr("fill", "#111")
        .attr("font-family", "'Liberation Sans', Arial, sans-serif");

    // points
    const pts = d3.range(0, p.pts.length, 2).map(i => [p.pts[i], p.pts[i + 1]]);
    g.append("g").selectAll("circle")
        .data(pts)
        .enter().append("circle")
        .attr("cx", d => x(d[0]))
        .attr("cy", d => y(d[1]))
        .attr("r", 0.85)
        .attr("fill", "#222");

    // regression line
    g.append("path")
        .datum(p.fit)
        .attr("d", d3.line().x(d => x(d[0])).y(d => y(d[1])))
        .attr("stroke", "#000")
        .attr("stroke-width", 2.2)
        .attr("fill", "none");

    // r / p
    const si = statIndex[p.id];
    const sx = c.x0 + (p.col === 0 ? 9.5 : 13);
    const rt = g.append("text").attr("x", sx).attr("y", r.top + 4.5).attr("font-size", 12).attr("fill", "#111");
    rt.append("tspan").attr("font-style", "italic").text("r");
    rt.append("tspan").text(rVals[si]);
    const pt = g.append("text").attr("x", sx - 0.5).attr("y", r.top + 19.5).attr("font-size", 12).attr("fill", "#111");
    pt.append("tspan").attr("font-style", "italic").text("p");
    pt.append("tspan").text(pVals[si]);

    // x title
    const xc = (c.x0 + c.x1) / 2;
    const xt1 = g.append("text").attr("x", xc).attr("y", r.bottom + 39)
        .attr("text-anchor", "middle").attr("font-size", 14).attr("fill", "#111");
    logLine(xt1, p.stat);
    g.append("text").attr("x", xc).attr("y", r.bottom + 56)
        .attr("text-anchor", "middle").attr("font-size", 14).attr("fill", "#111")
        .text(p.xl);

    // y title
    const yc = (r.top + r.bottom) / 2;
    const yt1 = g.append("text")
        .attr("transform", `translate(${c.x0 - 49.5},${yc}) rotate(-90)`)
        .attr("text-anchor", "middle").attr("font-size", 14).attr("fill", "#111");
    logLine(yt1, p.stat);
    g.append("text")
        .attr("transform", `translate(${c.x0 - 33.5},${yc}) rotate(-90)`)
        .attr("text-anchor", "middle").attr("font-size", 14).attr("fill", "#111")
        .text(p.yl);

    // panel letter
    g.append("text")
        .attr("x", p.col === 0 ? 3 : 361)
        .attr("y", p.ly)
        .attr("font-size", 19)
        .attr("font-weight", "bold")
        .attr("fill", "#000")
        .text(p.id);
});
</script>
</body>
</html>
